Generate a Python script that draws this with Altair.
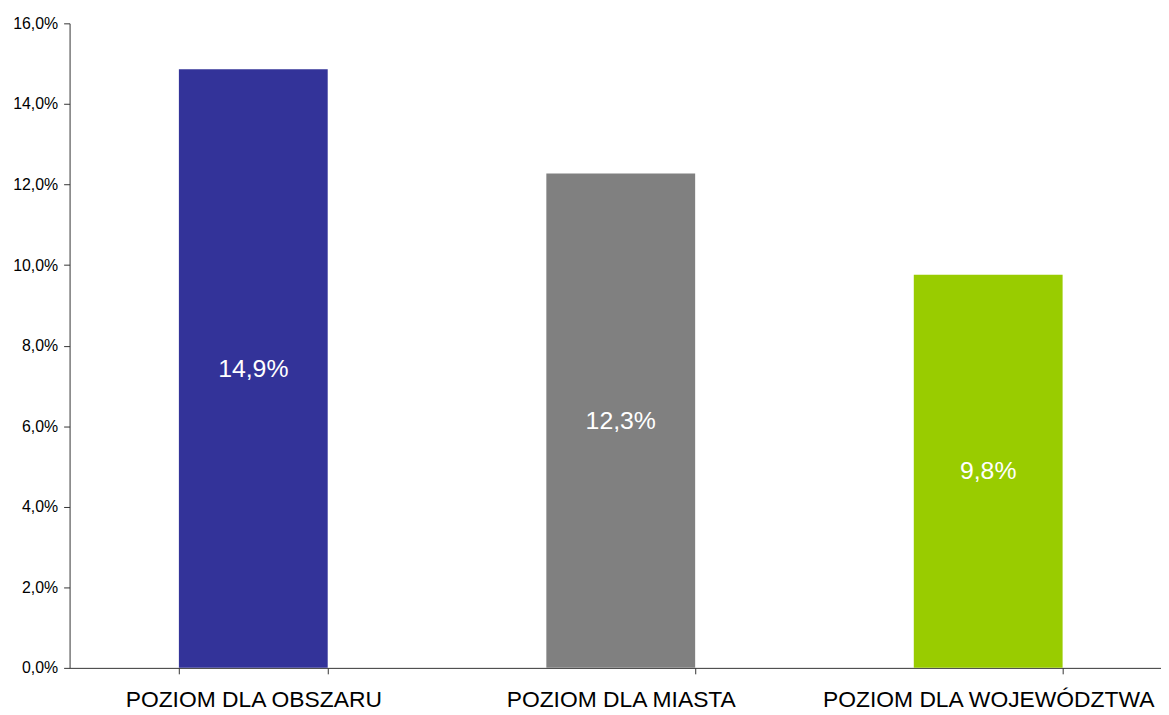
import altair as alt
import pandas as pd

categories = ["POZIOM DLA OBSZARU", "POZIOM DLA MIASTA", "POZIOM DLA WOJEWÓDZTWA"]
values = [0.1486, 0.1227, 0.0976]
colors = ["#333399", "#808080", "#99CC00"]

df = pd.DataFrame({"cat": categories, "val": values, "color": colors})
df["label"] = df["val"].map(lambda v: f"{v*100:.1f}%".replace(".", ","))
df["mid"] = df["val"] / 2

x = alt.X(
    "cat:N",
    sort=categories,
    title=None,
    scale=alt.Scale(paddingInner=0.595, paddingOuter=0.2975),
    axis=alt.Axis(
        labelAngle=0,
        labelFontSize=23,
        labelColor="#000000",
        labelFont="Liberation Sans",
        labelPadding=15,
        tickBand="extent",
        tickSize=6,
        tickColor="#333333",
        domainColor="#333333",
        labelLimit=500,
    ),
)

bars = alt.Chart(df).mark_bar().encode(
    x=x,
    y=alt.Y(
        "val:Q",
        title=None,
        scale=alt.Scale(domain=[0, 0.16], nice=False),
        axis=alt.Axis(
            values=[0, 0.02, 0.04, 0.06, 0.08, 0.10, 0.12, 0.14, 0.16],
            labelExpr="replace(format(datum.value, '.1%'), '.', ',')",
            grid=False,
            labelFontSize=16,
            labelColor="#000000",
            labelFont="Liberation Sans",
            tickSize=6,
            tickColor="#333333",
            domainColor="#333333",
            labelPadding=6,
        ),
    ),
    color=alt.Color("color:N", scale=None),
)

labels = alt.Chart(df).mark_text(
    color="white", fontSize=25, font="Liberation Sans", baseline="middle"
).encode(
    x=alt.X("cat:N", sort=categories),
    y=alt.Y("mid:Q"),
    text="label:N",
)

chart = (
    alt.layer(bars, labels)
    .properties(
        width=1110,
        height=649,
        autosize=alt.AutoSizeParams(type="none"),
        padding={"left": 62, "top": 13, "right": -11, "bottom": 44},
    )
    .configure_view(stroke=None)
    .configure_axis(domainWidth=1, tickWidth=1)
)

chart.save("out.html", embed_options={"renderer": "svg", "actions": False})
